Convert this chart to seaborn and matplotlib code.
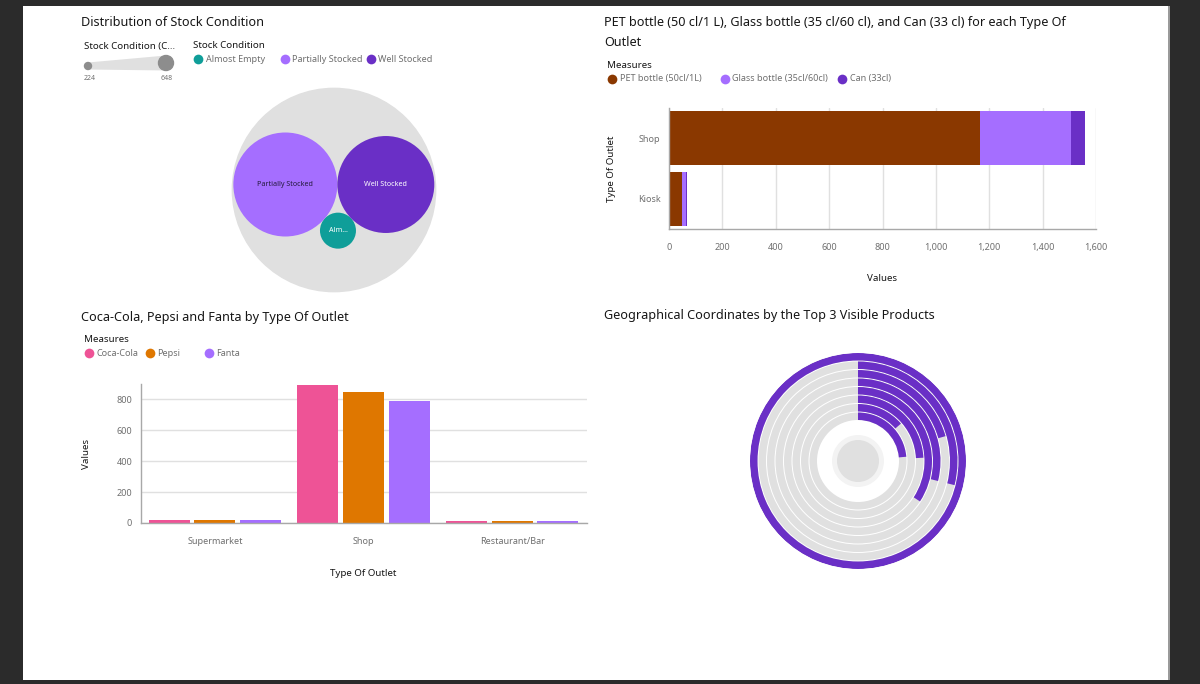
import numpy as np
import pandas as pd
import matplotlib
matplotlib.use("Agg")
import matplotlib.pyplot as plt
from matplotlib.patches import Circle, Rectangle, Polygon
import seaborn as sns

# ---- data ----
stock_conditions = ["Almost Empty", "Partially Stocked", "Well Stocked"]
stock_counts = [224, 648, 585]

outlets_h = ["Shop", "Kiosk"]
pet_bottle = [1165, 50]
glass_bottle = [340, 15]
can = [53, 3]

outlets_v = ["Supermarket", "Shop", "Restaurant/Bar"]
coca_cola = [21, 890, 13]
pepsi = [17, 843, 12]
fanta = [17, 787, 11]

# share of the largest value for each ring, outer ring first
ring_values = [100, 28.9, 20.6, 28.9, 34.2, 24.2, 13.6, 23.6]

# ---- colours ----
TEAL = "#0f9e99"
LIGHT_PURPLE = "#a56eff"
DARK_PURPLE = "#6a2fc6"
BROWN = "#8a3800"
PINK = "#ee5396"
ORANGE = "#df7700"
TRACK = "#e0e0e0"
TITLE_C = "#161616"
TICK_C = "#6f6f6f"
AXIS_C = "#a8a8a8"

sns.set_theme(style="white")
plt.rcParams['font.family'] = ['Noto Sans', 'DejaVu Sans']
TITLE_FS = 9.1

W, H = 1200, 684
fig = plt.figure(figsize=(W / 100, H / 100), dpi=100)
fig.patch.set_facecolor("#2b2b2b")
fig.add_artist(Rectangle((23 / W, 1 - 680 / H), (1168 - 23) / W, (680 - 6) / H,
                         transform=fig.transFigure, facecolor="white",
                         edgecolor="none", zorder=-10))
fig.add_artist(Rectangle((1168 / W, 1 - 680 / H), 1.5 / W, (680 - 6) / H,
                         transform=fig.transFigure, facecolor="#9a9a9a",
                         edgecolor="none", zorder=-9))


def px_axes(left, top, right, bottom, **kw):
    """Axes placed by pixel box (origin top-left)"""
    return fig.add_axes([left / W, 1 - bottom / H, (right - left) / W, (bottom - top) / H], **kw)


def style_ticks(ax):
    ax.tick_params(colors=TICK_C, labelsize=6.5, length=0)
    for s in ["top", "right"]:
        ax.spines[s].set_visible(False)
    for s in ["left", "bottom"]:
        ax.spines[s].set_color(AXIS_C)
        ax.spines[s].set_linewidth(1)


# ---- overlay for titles / legends ----
ov = px_axes(0, 0, W, H)
ov.set_xlim(0, W)
ov.set_ylim(H, 0)
ov.axis("off")
ov.set_zorder(5)


def legend_row(title, items, x_title, y_title, y_items):
    ov.text(x_title, y_title, title, fontsize=7, color=TITLE_C, va="center", ha="left")
    for label, color, x in items:
        ov.plot(x, y_items, "o", ms=7, color=color, mec="none")
        ov.text(x + 7.5, y_items, label, fontsize=6.5, color=TICK_C, va="center", ha="left")


# ===== top left: packed bubbles =====
ov.text(81, 23, "Distribution of Stock Condition", fontsize=TITLE_FS, color=TITLE_C, va="center")
ov.text(84, 46, "Stock Condition (C...", fontsize=7, color=TITLE_C, va="center")
ov.add_patch(Polygon([(88, 62.5), (166, 55.5), (166, 70.5), (88, 69.5)],
                     closed=True, facecolor=TRACK, edgecolor="none"))
ov.add_patch(Circle((88, 66), 3.5, color="#8d8d8d"))
ov.add_patch(Circle((166, 63), 7.5, color="#8d8d8d"))
ov.text(90, 78, str(min(stock_counts)), fontsize=5, color=TICK_C, ha="center", va="center")
ov.text(167, 78, str(max(stock_counts)), fontsize=5, color=TICK_C, ha="center", va="center")
legend_row("Stock Condition",
           [("Almost Empty", TEAL, 198), ("Partially Stocked", LIGHT_PURPLE, 285),
            ("Well Stocked", DARK_PURPLE, 371)], 193, 46, 59)

stock_df = pd.DataFrame({"condition": stock_conditions, "count": stock_counts})
r_min, r_max = 18.0, 52.0
vmin, vmax = stock_df["count"].min(), stock_df["count"].max()
area = r_min ** 2 + (stock_df["count"] - vmin) / (vmax - vmin) * (r_max ** 2 - r_min ** 2)
stock_df["r"] = np.sqrt(area)

# simple front-chain pack: two largest side by side, third tangent below
order = stock_df.sort_values("r", ascending=False).index.tolist()
r1, r2, r3 = stock_df.loc[order, "r"].values
d = r1 + r2
a, b = r1 + r3, r2 + r3
x3 = (a ** 2 - b ** 2 + d ** 2) / (2 * d)
pos = {order[0]: (0.0, 0.0), order[1]: (d, 0.0), order[2]: (x3, np.sqrt(a ** 2 - x3 ** 2))}
stock_df["px"] = [pos[i][0] for i in stock_df.index]
stock_df["py"] = [pos[i][1] for i in stock_df.index]

gx, gy = np.meshgrid(np.linspace(-20, d + 20, 400), np.linspace(-30, 60, 400))
reach = np.max([np.hypot(gx - row.px, gy - row.py) + row.r for row in stock_df.itertuples()], axis=0)
k = np.argmin(reach)
ecx, ecy, er = gx.flat[k], gy.flat[k], reach.flat[k] + 1

# outer circle centre, bubbles sit a little above it
cx, cy = 334, 190
stock_df["px"] += cx - ecx
stock_df["py"] += cy - ecy - 5.5

ax1 = px_axes(200, 75, 470, 305)
ax1.set_xlim(200, 470)
ax1.set_ylim(305, 75)
ax1.axis("off")
ax1.add_patch(Circle((cx, cy), er, color=TRACK, zorder=0))
sns.scatterplot(data=stock_df, x="px", y="py", hue="condition", size="count",
                sizes=((1.44 * r_min) ** 2, (1.44 * r_max) ** 2),
                palette={"Almost Empty": TEAL, "Partially Stocked": LIGHT_PURPLE,
                         "Well Stocked": DARK_PURPLE},
                linewidth=0, legend=False, ax=ax1, zorder=2)
for row in stock_df.itertuples():
    label = row.condition if row.r > 30 else row.condition[:3] + "..."
    tc = "#241a3d" if row.condition == "Partially Stocked" else "white"
    ax1.text(row.px, row.py, label, fontsize=5.2, color=tc, ha="center", va="center", zorder=3)
ax1.set_xlabel("")
ax1.set_ylabel("")

# ===== top right: stacked horizontal bars =====
ov.text(604, 16, "PET bottle (50 cl/1 L), Glass bottle (35 cl/60 cl), and Can (33 cl) for each Type Of\nOutlet",
        fontsize=TITLE_FS, color=TITLE_C, va="top", linespacing=1.7)
legend_row("Measures",
           [("PET bottle (50cl/1L)", BROWN, 612), ("Glass bottle (35cl/60cl)", LIGHT_PURPLE, 725),
            ("Can (33cl)", DARK_PURPLE, 842)], 607, 65, 79)

bottles = pd.DataFrame({"outlet": outlets_h, "pet": pet_bottle, "glass": glass_bottle, "can": can})
bottles["pet_glass"] = bottles["pet"] + bottles["glass"]
bottles["total"] = bottles["pet_glass"] + bottles["can"]

ax2 = px_axes(669, 108, 1096, 229)
for col, color in [("total", DARK_PURPLE), ("pet_glass", LIGHT_PURPLE), ("pet", BROWN)]:
    sns.barplot(data=bottles, x=col, y="outlet", order=outlets_h, orient="h", color=color,
                saturation=1, width=0.9, linewidth=0, ax=ax2, zorder=2)
ax2.set_xlim(0, 1600)
ax2.set_xticks(range(0, 1601, 200))
ax2.set_xticklabels([f"{v:,}" for v in range(0, 1601, 200)])
ax2.grid(axis="x", color=TRACK, lw=1, zorder=0)
ax2.set_axisbelow(True)
style_ticks(ax2)
ax2.tick_params(axis="x", pad=10)
ax2.tick_params(axis="y", pad=6)
ax2.set_xlabel("Values", fontsize=7, color=TITLE_C)
ax2.set_ylabel("Type Of Outlet", fontsize=7, color=TITLE_C)
ax2.xaxis.set_label_coords(0.5, -0.375)
ax2.yaxis.set_label_coords(-0.124, 0.5)

# ===== bottom left: grouped bars =====
ov.text(81, 317, "Coca-Cola, Pepsi and Fanta by Type Of Outlet", fontsize=TITLE_FS, color=TITLE_C, va="center")
legend_row("Measures",
           [("Coca-Cola", PINK, 89), ("Pepsi", ORANGE, 150), ("Fanta", LIGHT_PURPLE, 209)],
           84, 340, 353)

drinks = pd.DataFrame({"outlet": outlets_v, "Coca-Cola": coca_cola, "Pepsi": pepsi, "Fanta": fanta})
drinks_long = drinks.melt(id_vars="outlet", var_name="brand", value_name="value")

ax3 = px_axes(140.5, 384, 586.5, 523)
sns.barplot(data=drinks_long, x="outlet", y="value", hue="brand", order=outlets_v,
            hue_order=["Coca-Cola", "Pepsi", "Fanta"],
            palette={"Coca-Cola": PINK, "Pepsi": ORANGE, "Fanta": LIGHT_PURPLE},
            saturation=1, width=0.92, gap=0.1, linewidth=0, legend=False, ax=ax3, zorder=2)
ax3.set_ylim(0, 897)
ax3.set_yticks(range(0, 801, 200))
ax3.grid(axis="y", color=TRACK, lw=1, zorder=0)
ax3.set_axisbelow(True)
style_ticks(ax3)
ax3.tick_params(axis="x", pad=10)
ax3.tick_params(axis="y", pad=6)
ax3.set_xlabel("Type Of Outlet", fontsize=7, color=TITLE_C)
ax3.set_ylabel("Values", fontsize=7, color=TITLE_C)
ax3.xaxis.set_label_coords(0.5, -0.33)
ax3.yaxis.set_label_coords(-0.110, 0.5)

# ===== bottom right: radial bars =====
ov.text(604, 316, "Geographical Coordinates by the Top 3 Visible Products", fontsize=TITLE_FS,
        color=TITLE_C, va="center")

R_OUT, STEP, BAND = 108, 8.5, 7.5
rc_x, rc_y = 858, 461
ax4 = px_axes(rc_x - R_OUT, rc_y - R_OUT, rc_x + R_OUT, rc_y + R_OUT, projection="polar")
ax4.set_theta_zero_location("N")
ax4.set_theta_direction(-1)
for i, v in enumerate(ring_values):
    bottom = R_OUT - i * STEP - BAND
    ax4.bar(0, BAND, width=2 * np.pi, bottom=bottom, align="edge", color=TRACK, linewidth=0)
    ax4.bar(0, BAND, width=2 * np.pi * v / max(ring_values), bottom=bottom, align="edge",
            color=DARK_PURPLE, linewidth=0)
ax4.bar(0, 26, width=2 * np.pi, bottom=0, align="edge", color="#f3f3f3", linewidth=0)
ax4.bar(0, 21, width=2 * np.pi, bottom=0, align="edge", color=TRACK, linewidth=0)
ax4.set_ylim(0, R_OUT)
ax4.axis("off")

plt.savefig("out.png", dpi=100, facecolor=fig.get_facecolor())
